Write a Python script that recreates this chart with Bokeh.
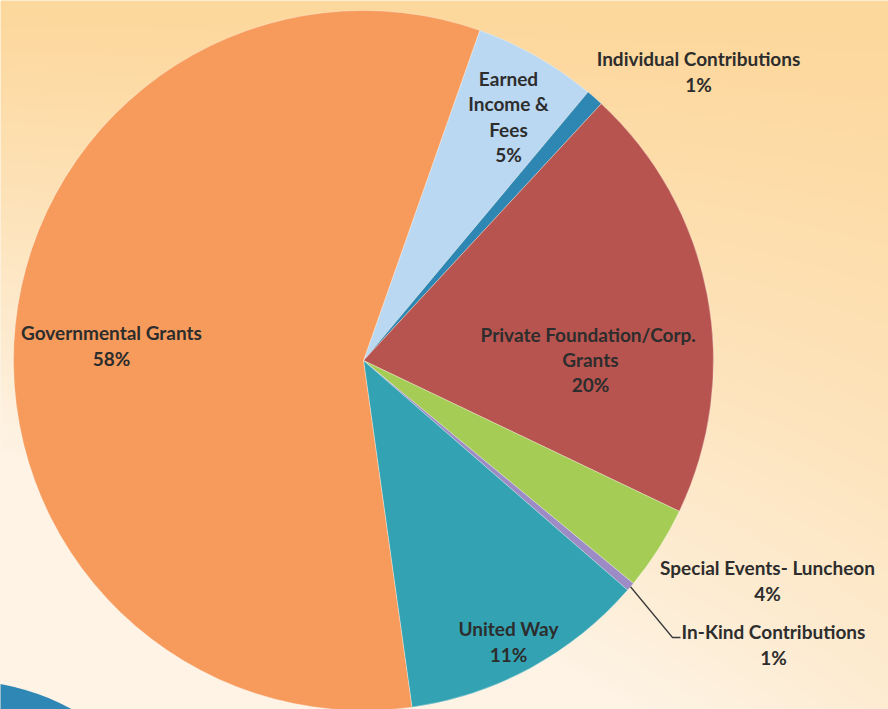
import numpy as np
from bokeh.plotting import figure
from bokeh.models import ColumnDataSource, Range1d
from bokeh.core.properties import value
from bokeh.embed import file_html
from bokeh.resources import INLINE

# ---------------- data ----------------
categories = ["Earned Income & Fees", "Individual Contributions",
              "Private Foundation/Corp. Grants", "Special Events- Luncheon",
              "In-Kind Contributions", "United Way", "Governmental Grants"]
shares = [5.7, 0.8, 20.2, 3.9, 0.4, 11.4, 57.6]
pct_labels = ["5%", "1%", "20%", "4%", "1%", "11%", "58%"]
label_names = ["Earned\nIncome &\nFees", "Individual Contributions",
               "Private  Foundation/Corp.\nGrants", "Special Events- Luncheon",
               "In-Kind Contributions", "United Way", "Governmental Grants"]

# ---------------- layout / style ----------------
colors = ["#BAD8F2", "#2E86B3", "#B8544F", "#A5CD56", "#9C8BC4", "#33A3B3", "#F79B5C"]
W, H = 888, 709            # picture size (image coordinates, y down)
cx, cy_img, R = 363, 360, 350
start_deg = 19.4           # clockwise from 12 o'clock
# label block centres (image coords)
label_pos = [(508, 116), (698, 71), (590, 359), (767, 580), (773, 644), (508, 641), (111, 345)]
font = "Lato"
fsize = "19px"

def yup(y_img):
    return H - y_img

# angles
shares_arr = np.array(shares, dtype=float)
cum = start_deg + np.concatenate([[0], np.cumsum(shares_arr / shares_arr.sum() * 360.0)])
theta_s, theta_e = cum[:-1], cum[1:]
bk_start = np.radians(90 - theta_e)
bk_end = np.radians(90 - theta_s)

p = figure(width=W, height=H, output_backend="svg", toolbar_location=None,
           x_range=Range1d(0, W), y_range=Range1d(0, H), min_border=0)
p.axis.visible = False
p.grid.visible = False
p.outline_line_color = None
p.background_fill_color = "#FEEBCD"
p.border_fill_color = "#FEEBCD"

# background gradient (decorative)
xs = np.arange(W) + 0.5
ys_img = H - (np.arange(H) + 0.5)
X, Y = np.meshgrid(xs, ys_img)
t = np.clip(0.00112 * Y + 0.00115 * Y * (1 - X / W) - 0.02, 0, 1)
t = t ** 1.1
peach = np.array([253, 216, 157])
cream = np.array([254, 243, 228])
rgb = peach[None, None, :] * (1 - t[..., None]) + cream[None, None, :] * t[..., None]
img = np.empty((H, W), dtype=np.uint32)
view = img.view(dtype=np.uint8).reshape((H, W, 4))
view[..., 0] = rgb[..., 0].astype(np.uint8)
view[..., 1] = rgb[..., 1].astype(np.uint8)
view[..., 2] = rgb[..., 2].astype(np.uint8)
view[..., 3] = 255
p.image_rgba(image=[img], x=0, y=0, dw=W, dh=H)

# decorative blue shape, bottom-left
p.circle(x=[-40], y=[yup(910)], radius=230, fill_color="#2E87B5", line_color=None)

# pie
src = ColumnDataSource(dict(cat=categories, share=shares, start=bk_start, end=bk_end, color=colors))
p.wedge(x=cx, y=yup(cy_img), radius=R, start_angle="start", end_angle="end",
        fill_color="color", line_color="#FFFFFF", line_alpha=0.3, line_width=1, source=src)

# labels
texts = [f"{n}\n{pc}" for n, pc in zip(label_names, pct_labels)]
lsrc = ColumnDataSource(dict(x=[lp[0] for lp in label_pos], y=[yup(lp[1]) for lp in label_pos], text=texts))
p.text(x="x", y="y", text="text", source=lsrc, text_font=value(font), text_font_style="bold",
       text_font_size=fsize, text_color="#2D2D2D", text_align="center", text_baseline="middle",
       text_line_height=1.1)

# leader line for In-Kind Contributions
ik = categories.index("In-Kind Contributions")
mid = np.radians((theta_s[ik] + theta_e[ik]) / 2)
sx = cx + R * np.sin(mid)
sy = cy_img - R * np.cos(mid)
lx, ly = label_pos[ik]
ey = ly - 7
p.line(x=[sx, lx - 101, lx - 93], y=[yup(sy), yup(ey), yup(ey)], line_color="#3A3A3A", line_width=1.3)

open("out.html", "w").write(file_html(p, INLINE))
